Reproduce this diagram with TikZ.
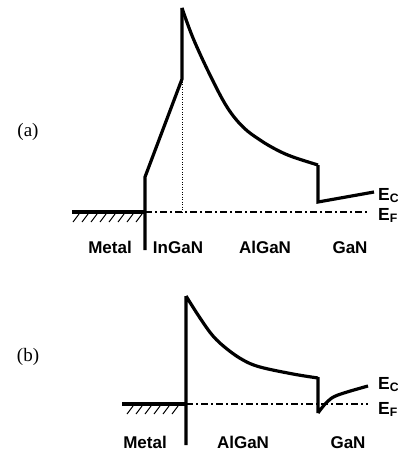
\documentclass[tikz,border=0pt]{standalone}
\usepackage{fontspec}
\setmainfont{Liberation Serif}
\setsansfont{Liberation Sans}
\usetikzlibrary{positioning,calc}

\begin{document}
\begin{tikzpicture}[
    x=1pt, y=-1pt,
    band/.style={line width=3.2pt, line join=miter},
    fermi/.style={line width=1.2pt, dash pattern=on 7pt off 3pt on 2pt off 3pt},
    metal/.style={line width=3.2pt},
    hatch/.style={line width=1pt},
    guide/.style={line width=0.5pt, dotted},
    lbl/.style={font=\sffamily\bfseries\fontsize{17}{20}\selectfont, inner sep=0pt, anchor=base},
    elbl/.style={font=\sffamily\bfseries\fontsize{17.5}{20}\selectfont, inner sep=0pt, anchor=base west},
    tag/.style={font=\rmfamily\fontsize{19}{22}\selectfont, inner sep=0pt}
]
\useasboundingbox (0,0) rectangle (398,452);

% ---------- (a) ----------
\node[tag] (taga) at (28,132) {(a)};

% Metal
\coordinate (ma0) at (72,212);
\coordinate (ma1) at (145,212);
\draw[metal] (ma0) -- (ma1);
\foreach \x in {73,82,...,137}
  \draw[hatch] (\x,222) -- ++(6,-8);

% InGaN
\coordinate (ia0) at (145,250);
\coordinate (ia1) at (145,177);
\coordinate (ia2) at (182,79);
\coordinate (ia3) at (182,8);
\draw[band] (ia0) -- (ia1) -- (ia2) -- (ia3);
\draw[guide] (ia2) -- (182,212);

% AlGaN
\coordinate (aa1) at (318,165);
\draw[band] (ia3) plot[smooth, tension=0.6] coordinates
  {(182,8) (193,38) (210,75) (227,107) (243,127) (260,140) (277,150) (293,157) (318,165)};

% GaN
\coordinate (ga0) at (318,202);
\coordinate (ga1) at (374,192);
\draw[band] (aa1) -- (ga0) -- (ga1);

% Fermi level
\coordinate (fa1) at (368,212);
\draw[fermi] (ma1) -- (fa1);

% Labels
\node[lbl] (metala) at (110,253) {Metal};
\node[lbl] (ingana) at (178,253) {InGaN};
\node[lbl] (algana) at (265,253) {AlGaN};
\node[lbl] (gana) at (350,253) {GaN};
\node[elbl] (eca) at (378,200) {E\textsubscript{C}};
\node[elbl] (efa) at (378,220) {E\textsubscript{F}};

% ---------- (b) ----------
\node[tag] (tagb) at (28,357) {(b)};

% Metal
\coordinate (mb0) at (122,404);
\coordinate (mb1) at (186,404);
\draw[metal] (mb0) -- (mb1);
\foreach \x in {127,136,...,172}
  \draw[hatch] (\x,414) -- ++(6,-8);

% AlGaN
\coordinate (ab0) at (186,445);
\coordinate (ab1) at (186,296);
\coordinate (ab2) at (318,377);
\draw[band] (ab0) -- (ab1) plot[smooth, tension=0.6] coordinates
  {(186,296) (200,318) (213,336) (227,349) (243,360) (260,367) (293,374) (318,378)};

% GaN
\coordinate (gb0) at (318,413);
\coordinate (gb1) at (368,386);
\draw[band] (ab2) -- (gb0) plot[smooth, tension=0.6] coordinates
  {(318,413) (327,402) (338,395) (368,386)};

% Fermi level
\coordinate (fb1) at (368,404);
\draw[fermi] (mb1) -- (fb1);

% Labels
\node[lbl] (metalb) at (145,448) {Metal};
\node[lbl] (alganb) at (243,448) {AlGaN};
\node[lbl] (ganb) at (348,448) {GaN};
\node[elbl] (ecb) at (378,389) {E\textsubscript{C}};
\node[elbl] (efb) at (378,414) {E\textsubscript{F}};

\end{tikzpicture}
\end{document}
